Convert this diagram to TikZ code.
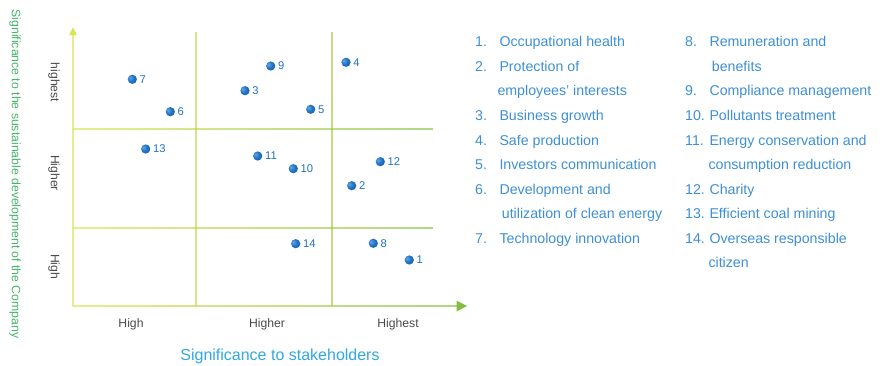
\documentclass[tikz,border=0pt]{standalone}
\usepackage{fontspec}
\setmainfont{Liberation Sans}
\definecolor{lineyellow}{HTML}{D9E64E}
\definecolor{linegreen}{HTML}{80BE40}
\definecolor{dotmain}{HTML}{1E6EC0}
\definecolor{dotlight}{HTML}{5DA8EA}
\definecolor{dotdark}{HTML}{1659A3}
\definecolor{dotnum}{HTML}{2270C2}
\definecolor{legblue}{HTML}{3D8FD6}
\definecolor{axisgray}{HTML}{4A4A4A}
\definecolor{titlegreen}{HTML}{45B467}
\definecolor{titleblue}{HTML}{2FA8E6}
\pgfdeclareradialshading{dotball}{\pgfpoint{-14bp}{10bp}}{color(0bp)=(dotlight); color(20bp)=(dotmain); color(45bp)=(dotdark); color(60bp)=(dotdark)}
\begin{document}
\begin{tikzpicture}[x=1pt,y=-1pt,
  every node/.style={inner sep=0pt},
  dotlabel/.style={text=dotnum, font=\fontsize{11.2}{13}\selectfont, label distance=2.4pt, inner sep=0pt},
  dot/.style={circle, minimum size=9.2pt, inner sep=0pt, shading=dotball, label={[dotlabel]right:#1}},
  leg/.style={anchor=base west, text=legblue, font=\fontsize{14.2}{16}\selectfont},
  axlab/.style={anchor=base, text=axisgray, font=\fontsize{12.2}{14}\selectfont},
  ylab/.style={rotate=-90, text=axisgray, font=\fontsize{12.2}{14}\selectfont}
]
\useasboundingbox (0,0) rectangle (884,365);

% axes and grid lines with a left-to-right gradient
\begin{scope}
\clip (72.3,35) rectangle (73.7,306.7)
      (73,27.5) -- (77,35) -- (69,35) -- cycle
      (195.3,32) rectangle (196.7,305.3)
      (331.3,32) rectangle (332.7,305.3)
      (73.7,128.3) rectangle (433,129.7)
      (73.7,227.3) rectangle (433,228.7)
      (72.3,305.3) rectangle (456.5,306.7)
      (467,306) -- (456.5,300.5) -- (456.5,311.5) -- cycle;
\shade[left color=lineyellow, right color=linegreen] (65,20) rectangle (470,315);
\end{scope}

% axis labels
\node[ylab] (yl1) at (54,82.5) {highest};
\node[ylab] (yl2) at (54,173) {Higher};
\node[ylab] (yl3) at (54,266.7) {High};
\node[axlab] (xl1) at (131,327) {High};
\node[axlab] (xl2) at (267,327) {Higher};
\node[axlab] (xl3) at (398,327) {Highest};
\node[anchor=base, text=titleblue, font=\fontsize{16}{18}\selectfont] (xt) at (280,360) {Significance to stakeholders};
\node[rotate=-90, text=titlegreen, font=\fontsize{12.25}{14}\selectfont] (yt) at (15,174) {Significance to the sustainable development of the Company};

% points
\node[dot=1] (p1) at (409.3,260) {};
\node[dot=2] (p2) at (351.7,185.7) {};
\node[dot=3] (p3) at (245,90.7) {};
\node[dot=4] (p4) at (346,62.3) {};
\node[dot=5] (p5) at (310.7,109.3) {};
\node[dot=6] (p6) at (170.3,111.7) {};
\node[dot=7] (p7) at (132.3,79.3) {};
\node[dot=8] (p8) at (373.3,243.3) {};
\node[dot=9] (p9) at (270.7,66) {};
\node[dot=10] (p10) at (293.3,168.7) {};
\node[dot=11] (p11) at (257.7,156) {};
\node[dot=12] (p12) at (380.3,161.7) {};
\node[dot=13] (p13) at (145.7,149) {};
\node[dot=14] (p14) at (295.7,243.7) {};

% legend, column 1
\node[leg] (n1) at (475,46.7) {1.};
\node[leg] (t1) at (499.3,46.7) {Occupational health};
\node[leg] (n2) at (475,71.3) {2.};
\node[leg] (t2) at (499.3,71.3) {Protection of};
\node[leg] (t2b) at (497.3,95.9) {employees’ interests};
\node[leg] (n3) at (475,120.4) {3.};
\node[leg] (t3) at (499.3,120.4) {Business growth};
\node[leg] (n4) at (475,145.0) {4.};
\node[leg] (t4) at (499.3,145.0) {Safe production};
\node[leg] (n5) at (475,169.6) {5.};
\node[leg] (t5) at (499.3,169.6) {Investors communication};
\node[leg] (n6) at (475,194.2) {6.};
\node[leg] (t6) at (499.3,194.2) {Development and};
\node[leg] (t6b) at (501.7,218.8) {utilization of clean energy};
\node[leg] (n7) at (475,243.3) {7.};
\node[leg] (t7) at (499.3,243.3) {Technology innovation};

% legend, column 2
\node[leg] (n8) at (685,46.7) {8.};
\node[leg] (t8) at (709.3,46.7) {Remuneration and};
\node[leg] (t8b) at (711.7,71.3) {benefits};
\node[leg] (n9) at (685,95.9) {9.};
\node[leg] (t9) at (709.3,95.9) {Compliance management};
\node[leg] (n10) at (685,120.4) {10.};
\node[leg] (t10) at (709.3,120.4) {Pollutants treatment};
\node[leg] (n11) at (685,145.0) {11.};
\node[leg] (t11) at (709.3,145.0) {Energy conservation and};
\node[leg] (t11b) at (708.3,169.6) {consumption reduction};
\node[leg] (n12) at (685,194.2) {12.};
\node[leg] (t12) at (709.3,194.2) {Charity};
\node[leg] (n13) at (685,218.8) {13.};
\node[leg] (t13) at (709.3,218.8) {Efficient coal mining};
\node[leg] (n14) at (685,243.3) {14.};
\node[leg] (t14) at (709.3,243.3) {Overseas responsible};
\node[leg] (t14b) at (708.3,267.9) {citizen};
\end{tikzpicture}
\end{document}
